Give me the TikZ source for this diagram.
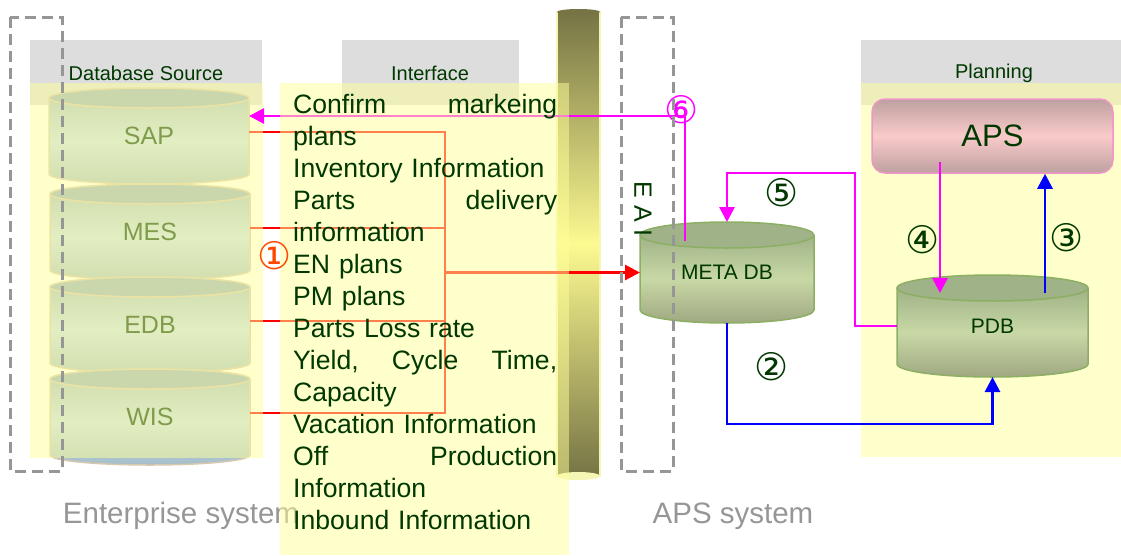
\documentclass[tikz,border=0pt]{standalone}
\usepackage{fontspec}
\setmainfont{Liberation Sans}
\newfontfamily\circfont{DejaVu Sans}
\usetikzlibrary{arrows.meta}

\definecolor{textgreen}{RGB}{0,56,0}
\definecolor{headgray}{RGB}{221,221,221}
\definecolor{paneyellow}{RGB}{255,255,153}
\definecolor{boxgray}{RGB}{150,150,150}
\definecolor{captiongray}{RGB}{150,150,150}
\definecolor{feedred}{RGB}{255,0,0}
\definecolor{flowpink}{RGB}{255,0,255}
\definecolor{flowblue}{RGB}{0,0,255}
\definecolor{numred}{RGB}{255,70,0}
% source databases (seen through the yellow pane)
\definecolor{srcmid}{RGB}{197,222,235}
\definecolor{srcedge}{RGB}{165,190,200}
\definecolor{srctop}{RGB}{150,175,195}
\definecolor{srcline}{RGB}{215,200,175}
% meta / planning databases
\definecolor{metatop}{RGB}{160,178,135}
\definecolor{metamid}{RGB}{200,216,165}
\definecolor{metalow}{RGB}{160,168,130}
\definecolor{metaline}{RGB}{140,175,100}
% EAI bus
\definecolor{busdark}{RGB}{118,116,68}
\definecolor{buslight}{RGB}{252,250,145}
\definecolor{busedge}{RGB}{245,245,180}
% APS box
\definecolor{apsdark}{RGB}{190,160,160}
\definecolor{apslight}{RGB}{250,202,202}
\definecolor{apsline}{RGB}{240,150,200}

\tikzset{
  header/.style={fill=headgray},
  pane/.style={fill=paneyellow, fill opacity=0.5},
  headtext/.style={font=\fontsize{20}{24}\selectfont, text=textgreen},
  caption/.style={font=\fontsize{29.5}{32}\selectfont, text=captiongray},
  groupbox/.style={draw=boxgray, line width=3pt, dash pattern=on 11pt off 6pt},
  % cylinder parts
  srcbody/.style={top color=srcedge, bottom color=srcedge, middle color=srcmid},
  srcrim/.style={draw=srcline, line width=1.5pt},
  srclid/.style={draw=srcline, line width=1.5pt, fill=srctop},
  srclabel/.style={font=\fontsize{25}{30}\selectfont, text=textgreen, inner sep=0pt, outer sep=0pt},
  metabody/.style={top color=metatop, bottom color=metalow, middle color=metamid},
  metarim/.style={draw=metaline, line width=1.5pt},
  metalid/.style={draw=metaline, line width=1.5pt, fill=metatop},
  metalabel/.style={font=\fontsize{21}{25}\selectfont, text=textgreen, inner sep=0pt, outer sep=0pt},
  % connectors
  tip/.style={-{Triangle[length=15pt,width=15pt]}},
  feed/.style={draw=feedred, line width=2.8pt},
  pinkflow/.style={draw=flowpink, line width=2.8pt, tip},
  blueflow/.style={draw=flowblue, line width=2.8pt, tip},
  stepnum/.style={font=\circfont\fontsize{38}{40}\selectfont, text=textgreen, inner sep=0pt},
}

% #1 style prefix, #2 name, #3/#4 centre, #5 half width, #6 half height, #7 lid radius, #8 text
\newcommand{\dbcyl}[8][src]{%
  \fill[#1body] (#3-#5,#4-#6) -- (#3-#5,#4+#6)
    arc[start angle=180, end angle=0, x radius=#5, y radius=#7]
    -- (#3+#5,#4-#6) -- cycle;
  \draw[#1rim] (#3-#5,#4-#6) -- (#3-#5,#4+#6)
    arc[start angle=180, end angle=0, x radius=#5, y radius=#7]
    -- (#3+#5,#4-#6);
  \draw[#1lid] (#3,#4-#6) ellipse [x radius=#5, y radius=#7];
  \node[#1label, minimum width=2*#5, minimum height=2*#6] (#2) at (#3,#4) {#8};
}

\begin{document}
\begin{tikzpicture}[x=1pt, y=-1pt]
  \useasboundingbox (0,0) rectangle (1121,555);

  % Headers
  \fill[header] (30,40) rectangle (262,105);
  \fill[header] (342,40) rectangle (519,105);
  \fill[header] (861,40) rectangle (1121,105);

  % Planning pane
  \fill[pane] (861,83) rectangle (1121,457);

  % Source databases
  \fill[srcedge] (150,457) ellipse [x radius=97, y radius=6];
  \dbcyl{sap}{149}{136}{100}{38}{10}{SAP}
  \dbcyl{mes}{150}{232}{100}{38}{10}{MES}
  \dbcyl{edb}{150}{325}{100}{38}{10}{EDB}
  \dbcyl{wis}{150}{417}{100}{38}{10}{WIS}

  % Meta and planning databases
  \dbcyl[meta]{meta}{727}{272.5}{87}{37.5}{13}{META DB}
  \dbcyl[meta]{pdb}{992.5}{326}{95.5}{38}{13}{PDB}
  \node[top color=apsdark, bottom color=apsdark, middle color=apslight,
        draw=apsline, line width=1.5pt, rounded corners=13pt,
        minimum width=241pt, minimum height=74pt,
        font=\fontsize{31}{34}\selectfont, text=textgreen] (aps) at (992.5,136) {APS};

  % EAI bus
  \shade[top color=busdark, bottom color=busdark, middle color=buslight,
         draw=busedge, line width=2pt] (557,12) rectangle (600,476);
  \fill[busedge] (578.5,476) ellipse [x radius=21.5, y radius=4];
  \fill[busdark] (578.5,12) ellipse [x radius=21.5, y radius=3];

  % Feeds into META DB
  \coordinate (hub) at (445,272.5);
  \foreach \src in {sap,mes,edb,wis}
    \draw[feed] ([yshift=4pt]\src.east) -| (hub);
  \draw[feed, tip] (hub) -- (meta.west);

  % Left pane and caption
  \fill[pane] (30,83) rectangle (263,458);
  \node[caption] (entcap) at (181,516) {Enterprise system};

  % Marketing plans back to SAP
  \draw[pinkflow] ([xshift=-42pt,yshift=-6pt]meta.north) |- ([yshift=20pt]sap.east);

  % Interface pane
  \fill[pane] (280,83) rectangle (569,555);

  % Header texts
  \node[headtext] (dbhead) at (146,73) {Database Source};
  \node[headtext] (ifhead) at (430,73) {Interface};
  \node[headtext] (plhead) at (994,73) {Planning};

  % Interface items
  \node[anchor=north west, text width=264pt, align=left, inner sep=0pt,
        font=\fontsize{26.6}{32}\selectfont, text=textgreen,
        execute at begin node=\setlength{\parindent}{0pt}] (items) at (293,94)
    {Confirm\hfill markeing\\ plans\\ Inventory Information\\ Parts\hfill delivery\\
     information\\ EN plans\\ PM plans\\ Parts Loss rate\\ Yield,\hfill Cycle\hfill Time,\\
     Capacity\\ Vacation Information\\ Off\hfill Production\\ Information\\ Inbound Information};

  % Flows between META DB, PDB and APS
  \draw[blueflow] ([yshift=-13pt]meta.south) -- ++(0,101) -| ([yshift=-13pt]pdb.south);
  \draw[blueflow] ([xshift=52.5pt,yshift=-5pt]pdb.north) -- ([xshift=52.5pt]aps.south);
  \draw[pinkflow] ([xshift=-52.5pt,yshift=12pt]aps.south) -- ([xshift=-52.5pt,yshift=-5pt]pdb.north);
  \draw[pinkflow] (pdb.west) -- ++(-42,0) |- ([yshift=62pt]meta.north) -- ([yshift=13pt]meta.north);

  % Step numbers
  \node[stepnum, text=numred] (n1) at (275,256) {①};
  \node[stepnum] (n2) at (772,367) {②};
  \node[stepnum] (n3) at (1067,238) {③};
  \node[stepnum] (n4) at (923,240) {④};
  \node[stepnum] (n5) at (782,193) {⑤};
  \node[stepnum, text=flowpink] (n6) at (682,110) {⑥};

  % Group boxes
  \draw[groupbox] (10,17) rectangle (62,471);
  \draw[groupbox] (621,17) rectangle (673,471);
  \node[rotate=-90, font=\fontsize{25}{28}\selectfont, text=textgreen] (eai) at (643,209) {E A I};
  \node[caption] (apscap) at (733,516) {APS system};
\end{tikzpicture}
\end{document}
